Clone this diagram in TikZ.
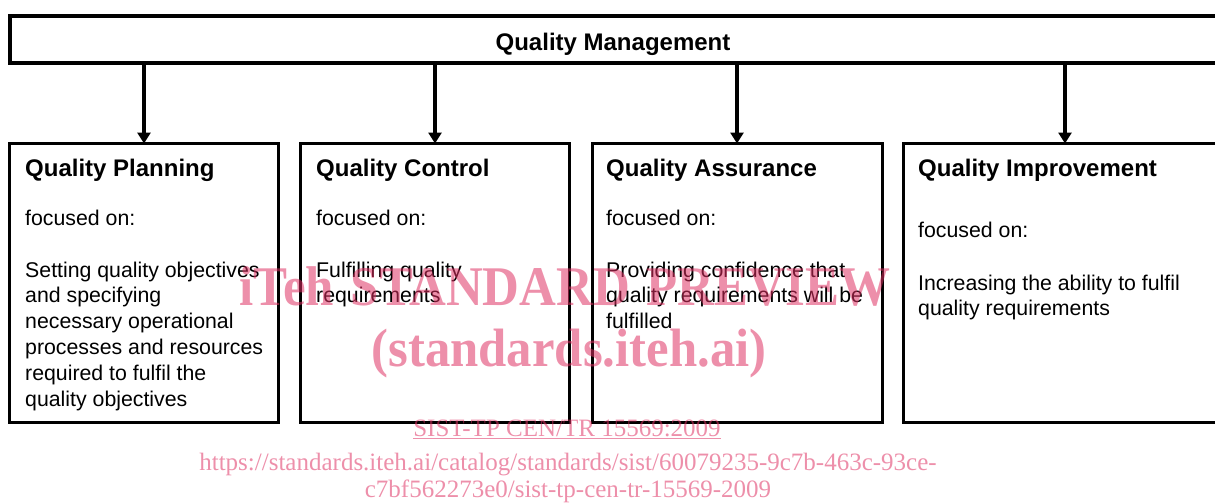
\documentclass[tikz,border=0pt]{standalone}
\usepackage{fontspec}
\setmainfont{Liberation Sans}
\newfontfamily\wmfont{Liberation Serif}
\usetikzlibrary{arrows.meta}
\definecolor{wmpink}{RGB}{222,48,98}

\begin{document}
\begin{tikzpicture}[x=1pt,y=-1pt,
  box/.style={draw=black, line width=3pt, outer sep=0pt, inner sep=0pt, anchor=north west},
  head/.style={anchor=base west, inner sep=0pt, font=\fontsize{24}{28}\selectfont\bfseries},
  body/.style={anchor=base west, inner sep=0pt, font=\fontsize{21.3}{25.8}\selectfont},
  para/.style={anchor=north west, inner sep=0pt, align=left, font=\fontsize{21.3}{25.8}\selectfont},
  link/.style={-{Triangle[width=13pt,length=11pt]}, line width=3.2pt},
  wm/.style={text=wmpink, text opacity=0.54, inner sep=0pt, anchor=base}
]
\useasboundingbox (0,0) rectangle (1215,503);
\clip (0,0) rectangle (1215,503);

% top-level box
\node[box, line width=4.3pt, minimum width=1300pt, minimum height=47pt] (qm) at (10.3,16.3) {};
\node[anchor=base, inner sep=0pt, font=\fontsize{24}{28}\selectfont\bfseries] (qmt) at (613,51) {Quality Management};

% the four branches
\node[box, minimum width=269pt, minimum height=279pt] (qp) at (9.5,143.5) {};
\node[box, minimum width=269pt, minimum height=279pt] (qc) at (300.5,143.5) {};
\node[box, minimum width=290pt, minimum height=279pt] (qa) at (592,143.5) {};
\node[box, minimum width=323pt, minimum height=279pt] (qi) at (903.5,143.5) {};

\foreach \b in {qp,qc,qa,qi}
  \draw[link] (\b.north |- qm.south) -- (\b.north);

% Quality Planning
\node[head] (qph) at (25,176) {Quality Planning};
\node[body] (qpf) at (25,225) {focused on:};
\node[para] (qpt) at (25,261.5) {Setting quality objectives\\and specifying\\necessary operational\\processes and resources\\required to fulfil the\\quality objectives};

% Quality Control
\node[head] (qch) at (316,176) {Quality Control};
\node[body] (qcf) at (316,225) {focused on:};
\node[para] (qct) at (316,261.5) {Fulfilling quality\\requirements};

% Quality Assurance
\node[head] (qah) at (606,176) {Quality Assurance};
\node[body] (qaf) at (606,225) {focused on:};
\node[para] (qat) at (606,261.5) {Providing confidence that\\quality requirements will be\\fulfilled};

% Quality Improvement
\node[head] (qih) at (918,176) {Quality Improvement};
\node[body] (qif) at (918,237) {focused on:};
\node[para] (qit) at (918,274.5) {Increasing the ability to fulfil\\quality requirements};

% overprinted preview stamp
\node[wm, font=\wmfont\bfseries\fontsize{56}{60}\selectfont] (wm1) at (565,305) {\scalebox{0.91}[1]{iTeh\hspace{0.33em}STANDARD\hspace{0.33em}PREVIEW}};
\node[wm, font=\wmfont\bfseries\fontsize{54}{58}\selectfont] (wm2) at (569,366) {\scalebox{0.94}[1]{(standards.iteh.ai)}};
\node[wm, font=\wmfont\fontsize{25}{28}\selectfont] (wm3) at (567,436) {\underline{SIST-TP CEN/TR 15569:2009}};
\node[wm, font=\wmfont\fontsize{25}{28}\selectfont] (wm4) at (568,470) {https://standards.iteh.ai/catalog/standards/sist/60079235-9c7b-463c-93ce-};
\node[wm, font=\wmfont\fontsize{25}{28}\selectfont] (wm5) at (568,497) {c7bf562273e0/sist-tp-cen-tr-15569-2009};
\end{tikzpicture}
\end{document}
